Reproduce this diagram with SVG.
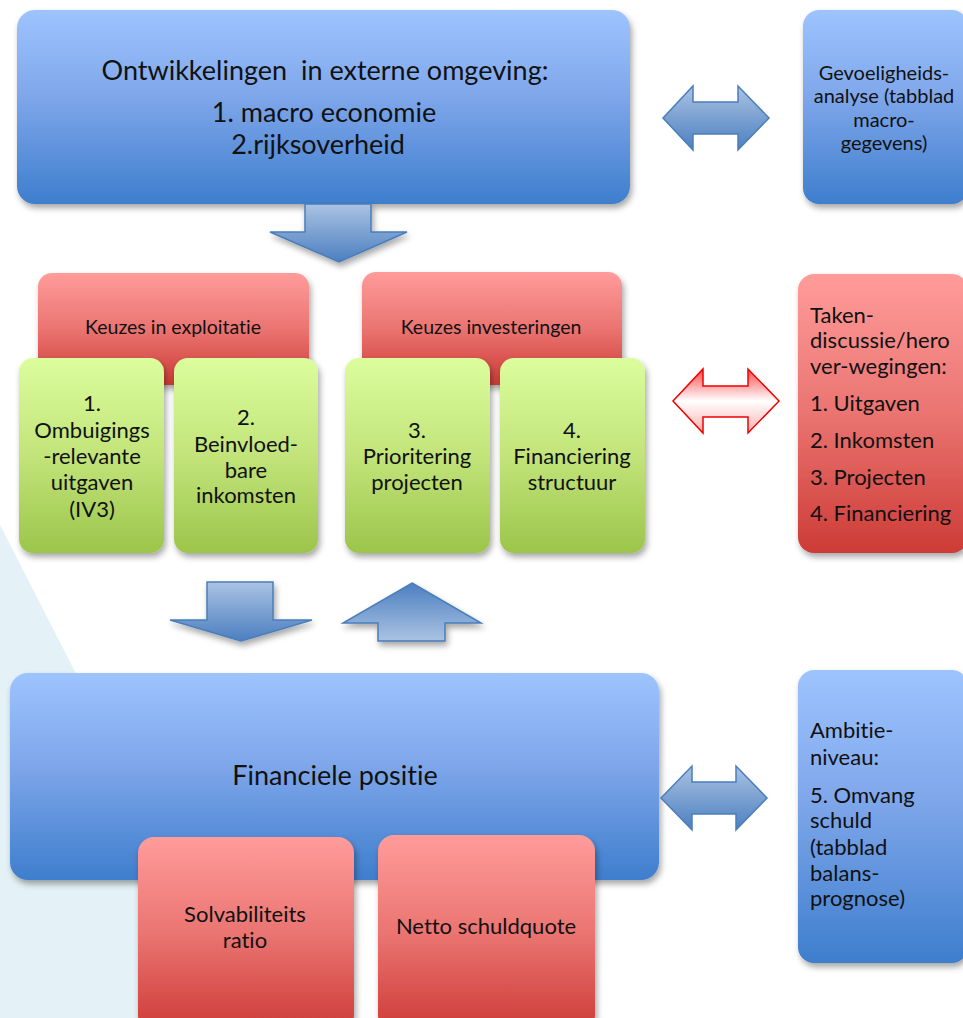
<svg xmlns="http://www.w3.org/2000/svg" width="963" height="1018" viewBox="0 0 963 1018">
<defs>
<linearGradient id="gBlue" x1="0" y1="0" x2="0" y2="1"><stop offset="0" stop-color="#9ec4fe"/><stop offset="0.45" stop-color="#7ea6ea"/><stop offset="1" stop-color="#3e7ecd"/></linearGradient>
<linearGradient id="gRed" x1="0" y1="0" x2="0" y2="1"><stop offset="0" stop-color="#ff9c9a"/><stop offset="0.5" stop-color="#ea7471"/><stop offset="1" stop-color="#cd3b36"/></linearGradient>
<linearGradient id="gGreen" x1="0" y1="0" x2="0" y2="1"><stop offset="0" stop-color="#dcfd9d"/><stop offset="0.5" stop-color="#c2e47a"/><stop offset="1" stop-color="#9cc54b"/></linearGradient>
<linearGradient id="gArrow" x1="0" y1="0" x2="0" y2="1"><stop offset="0" stop-color="#aac3e3"/><stop offset="1" stop-color="#4c7fc0"/></linearGradient>
<linearGradient id="gArrowUp" x1="0" y1="1" x2="0" y2="0"><stop offset="0" stop-color="#aac3e3"/><stop offset="1" stop-color="#4c7fc0"/></linearGradient>
<linearGradient id="gRedArrow" x1="0" y1="0" x2="0" y2="1"><stop offset="0" stop-color="#ff4a4a"/><stop offset="0.5" stop-color="#ffffff"/><stop offset="1" stop-color="#ffb0b0"/></linearGradient>
<filter id="sh" x="-10%" y="-10%" width="125%" height="130%"><feDropShadow dx="2" dy="4" stdDeviation="3" flood-color="#000" flood-opacity="0.35"/></filter>
</defs>
<style>
text{font-family:Lato,"Liberation Sans",sans-serif;fill:#111;font-variant-ligatures:none;font-feature-settings:"liga" 0,"clig" 0;}
.c{text-anchor:middle;}
.big{font-size:27px;}
.mid{font-size:22px;}
.sm{font-size:20px;}
.hd{font-size:19.5px;}
.pre{white-space:pre;}
.arrow{fill:url(#gArrow);stroke:#4a7ebb;stroke-width:1.5;stroke-linejoin:miter;}
</style>
<rect width="963" height="1018" fill="#ffffff"/>
<polygon points="0,525 252,1018 0,1018" fill="#e4f1f7"/>

<g id="node-extern">
<rect x="17" y="10" width="613" height="194" rx="18" fill="url(#gBlue)" filter="url(#sh)"/>
<text class="c big pre" x="325" y="80" xml:space="preserve">Ontwikkelingen  in externe omgeving:</text>
<text class="c big" x="324" y="122">1. macro economie</text>
<text class="c big" x="318" y="154">2.rijksoverheid</text>
</g>

<g id="node-gevoeligheid">
<rect x="803" y="10" width="165" height="194" rx="16" fill="url(#gBlue)" filter="url(#sh)"/>
<text class="c sm" x="884" y="80">Gevoeligheids-</text>
<text class="c sm" x="884" y="103">analyse (tabblad</text>
<text class="c sm" x="884" y="127">macro-</text>
<text class="c sm" x="884" y="150">gegevens)</text>
</g>

<g id="node-keuzes-exploitatie">
<rect x="38" y="273" width="271" height="112" rx="14" fill="url(#gRed)" filter="url(#sh)"/>
<text class="c hd" x="173" y="334">Keuzes in exploitatie</text>
</g>
<g id="node-keuzes-investeringen">
<rect x="362" y="272" width="260" height="113" rx="14" fill="url(#gRed)" filter="url(#sh)"/>
<text class="c hd" x="491" y="334">Keuzes investeringen</text>
</g>

<g id="node-ombuigingen">
<rect x="19" y="358" width="145" height="195" rx="14" fill="url(#gGreen)" filter="url(#sh)"/>
<text class="c mid" x="92" y="411">1.</text>
<text class="c mid" x="92" y="438">Ombuigings</text>
<text class="c mid" x="92" y="464">-relevante</text>
<text class="c mid" x="92" y="490">uitgaven</text>
<text class="c mid" x="92" y="517">(IV3)</text>
</g>
<g id="node-inkomsten">
<rect x="174" y="358" width="144" height="195" rx="14" fill="url(#gGreen)" filter="url(#sh)"/>
<text class="c mid" x="246" y="425">2.</text>
<text class="c mid" x="246" y="452">Beinvloed-</text>
<text class="c mid" x="246" y="478">bare</text>
<text class="c mid" x="246" y="503">inkomsten</text>
</g>
<g id="node-prioritering">
<rect x="345" y="358" width="145" height="195" rx="14" fill="url(#gGreen)" filter="url(#sh)"/>
<text class="c mid" x="417" y="438">3.</text>
<text class="c mid" x="417" y="464">Prioritering</text>
<text class="c mid" x="417" y="490">projecten</text>
</g>
<g id="node-financiering">
<rect x="500" y="358" width="145" height="195" rx="14" fill="url(#gGreen)" filter="url(#sh)"/>
<text class="c mid" x="572" y="438">4.</text>
<text class="c mid" x="572" y="464">Financiering</text>
<text class="c mid" x="572" y="490">structuur</text>
</g>

<g id="node-taken">
<rect x="798" y="274" width="170" height="279" rx="16" fill="url(#gRed)" filter="url(#sh)"/>
<text class="mid" x="810" y="323">Taken-</text>
<text class="mid" x="810" y="348">discussie/hero</text>
<text class="mid" x="810" y="374">ver-wegingen:</text>
<text class="mid" x="810" y="411">1. Uitgaven</text>
<text class="mid" x="810" y="448">2. Inkomsten</text>
<text class="mid" x="810" y="485">3. Projecten</text>
<text class="mid" x="810" y="521">4. Financiering</text>
</g>

<g id="node-financiele-positie">
<rect x="10" y="673" width="649" height="207" rx="18" fill="url(#gBlue)" filter="url(#sh)"/>
<text class="c big" x="335" y="785">Financiele positie</text>
</g>

<g id="node-solvabiliteit">
<rect x="138" y="837" width="216" height="195" rx="16" fill="url(#gRed)" filter="url(#sh)"/>
<text class="c mid" x="245" y="922">Solvabiliteits</text>
<text class="c mid" x="245" y="948">ratio</text>
</g>
<g id="node-netto-schuldquote">
<rect x="378" y="835" width="217" height="197" rx="16" fill="url(#gRed)" filter="url(#sh)"/>
<text class="c mid" x="486" y="934">Netto schuldquote</text>
</g>

<g id="node-ambitie">
<rect x="798" y="670" width="170" height="293" rx="16" fill="url(#gBlue)" filter="url(#sh)"/>
<text class="mid" x="810" y="738">Ambitie-</text>
<text class="mid" x="810" y="765">niveau:</text>
<text class="mid" x="810" y="803">5. Omvang</text>
<text class="mid" x="810" y="828">schuld</text>
<text class="mid" x="810" y="855">(tabblad</text>
<text class="mid" x="810" y="881">balans-</text>
<text class="mid" x="810" y="906">prognose)</text>
</g>

<g id="connectors">
<path class="arrow" filter="url(#sh)" d="M305,204 L371,204 L371,232 L407,232 L339,262 L270,232 L305,232 Z"/>
<path class="arrow" d="M663,118 L693,86 L693,102 L738,102 L738,86 L769,118 L738,150 L738,134 L693,134 L693,150 Z"/>
<path d="M673,401 L703,369 L703,386 L748,386 L748,369 L779,401 L748,433 L748,417 L703,417 L703,433 Z" fill="url(#gRedArrow)" stroke="#f00000" stroke-width="1.5"/>
<path class="arrow" filter="url(#sh)" d="M207,582 L273,582 L273,620 L312,620 L241,641 L170,620 L207,620 Z"/>
<path class="arrow" filter="url(#sh)" style="fill:url(#gArrowUp)" d="M412,583 L481,623 L445,623 L445,641 L378,641 L378,623 L343,623 Z"/>
<path class="arrow" d="M661,798 L692,766 L692,782 L736,782 L736,766 L767,798 L736,830 L736,814 L692,814 L692,830 Z"/>
</g>
</svg>
